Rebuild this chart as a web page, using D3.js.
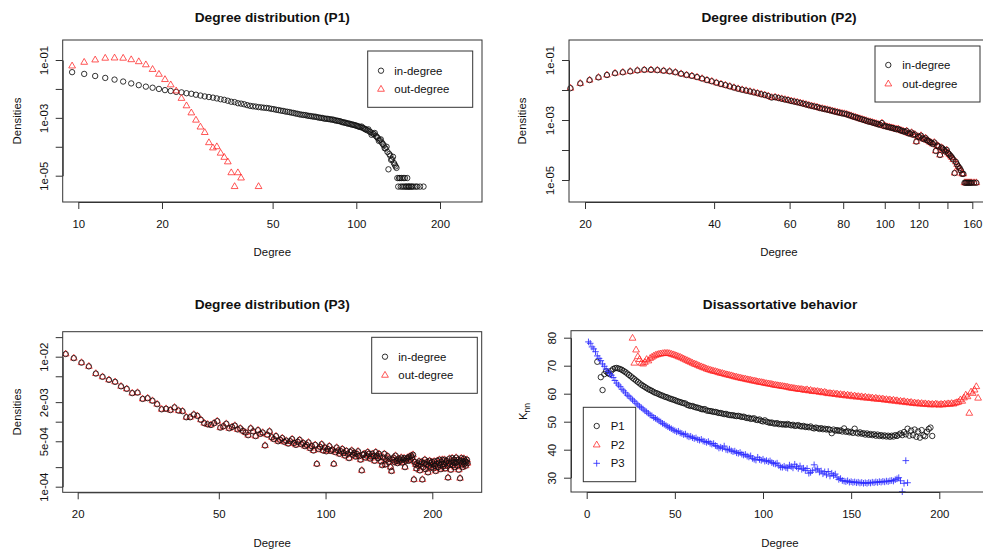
<!DOCTYPE html>
<html>
<head>
<meta charset="utf-8">
<script src="https://cdn.jsdelivr.net/npm/d3@7"></script>
<style>
  body { margin: 0; background: #fff; }
</style>
</head>
<body>
<div id="canvas"></div>
<script>
"use strict"

/* ---- data: [degree, density] ---- */
let p1InDegree = [
[9.5,3.8e-2],[10.5,3.3e-2],[11.5,2.8e-2],[12.5,2.4e-2],[13.5,2.1e-2],[14.5,1.8e-2],[15.5,1.55e-2],[16.5,1.35e-2],[17.5,1.2e-2],[18.5,1.1e-2],[19.5,1.0e-2],
[20.5,9.1e-3],[21.5,8.5e-3],[22.5,7.9e-3],[23.5,7.6e-3],[24.5,7.1e-3],[25.5,6.8e-3],[26.5,6.3e-3],[27.5,5.9e-3],[28.5,5.5e-3],[29.5,5.25e-3],
[30.5,5.0e-3],[31.5,4.7e-3],[32.5,4.4e-3],[33.5,4.2e-3],[34.5,3.9e-3],[35.5,3.6e-3],[36.5,3.5e-3],[37.5,3.2e-3],[38.5,3.1e-3],[39.5,2.95e-3],
[40.5,2.75e-3],[41.5,2.6e-3],[42.5,2.5e-3],[43.5,2.45e-3],[44.5,2.35e-3],[45.5,2.3e-3],[46.5,2.24e-3],[47.5,2.2e-3],[48.5,2.14e-3],[49.5,2.04e-3],
[50.5,2.0e-3],[51.5,1.9e-3],[52.5,1.86e-3],[53.5,1.78e-3],[54.5,1.74e-3],[55.5,1.66e-3],[56.5,1.62e-3],[57.5,1.58e-3],[58.5,1.51e-3],[59.5,1.48e-3],
[60.5,1.41e-3],[61.5,1.38e-3],[62.5,1.32e-3],[63.5,1.29e-3],[64.5,1.26e-3],[65.5,1.25e-3],[66.5,1.2e-3],[67.5,1.17e-3],[68.5,1.15e-3],[69.5,1.12e-3],
[70.5,1.1e-3],[71.5,1.09e-3],[72.5,1.05e-3],[73.5,1.02e-3],[74.5,1.0e-3],[75.5,9.9e-4],[76.5,9.5e-4],[77.5,9.3e-4],[78.5,9.3e-4],[79.5,9.1e-4],
[80.5,8.9e-4],[81.5,8.7e-4],[82.5,8.7e-4],[83.5,8.3e-4],[84.5,8.1e-4],[85.5,7.9e-4],[86.5,7.8e-4],[87.5,7.6e-4],[88.5,7.2e-4],[89.5,7.1e-4],
[90.5,6.8e-4],[91.5,6.8e-4],[92.5,6.5e-4],[93.5,6.3e-4],[94.5,6.3e-4],[95.5,6.0e-4],[96.5,5.9e-4],[97.5,5.75e-4],[98.5,5.6e-4],[99.5,5.5e-4],
[100.5,5.25e-4],[101.5,5.1e-4],[102.5,4.9e-4],[103.5,4.8e-4],[104.5,5.0e-4],[105.5,4.5e-4],[106.5,4.3e-4],[107.5,4.1e-4],[108.5,3.9e-4],[109.5,3.7e-4],
[110.5,4.0e-4],[111.5,3.4e-4],[112.5,3.2e-4],[113.5,2.6e-4],[114.5,2.9e-4],[115.5,2.75e-4],[116.5,3.0e-4],[117.5,2.4e-4],[118.5,2.2e-4],[119.5,2.0e-4],
[120.5,1.6e-4],[121.5,1.7e-4],[122.5,1.8e-4],[123.5,1.4e-4],[124.5,1.26e-4],[125.5,1.12e-4],[126.5,8.9e-5],[127.5,8.7e-5],[128.5,1.0e-4],[129.5,6.6e-5],
[130.5,1.66e-5],[131.5,5.6e-5],[132.5,4.9e-5],[133.5,3.5e-5],[134.5,3.7e-5],[135.5,4.5e-5],[136.5,2.75e-5],[137.5,2.4e-5],[138.5,2.1e-5],[139.5,1.86e-5],
[140.5,8.3e-6],[141.5,4.2e-6],[142.5,8.3e-6],[143.5,8.3e-6],[144.5,4.2e-6],[145.5,8.3e-6],[146.5,4.2e-6],[147.5,8.3e-6],[148.5,4.2e-6],[149.5,8.3e-6],
[150.5,4.2e-6],[151.5,4.2e-6],[152.5,8.3e-6],[153.5,4.2e-6],[154.5,4.2e-6],[155.5,4.2e-6],[157.5,4.2e-6],[158.5,4.2e-6],[160.5,4.2e-6],[163.5,4.2e-6],
[165.5,4.2e-6],[169.5,4.2e-6],[174.5,4.2e-6]
];

let p1OutDegree = [
[9.5,6.2e-2],[10.5,8.3e-2],[11.5,1.0e-1],[12.5,1.15e-1],[13.5,1.17e-1],[14.5,1.15e-1],[15.5,1.02e-1],[16.5,8.7e-2],[17.5,6.8e-2],[18.5,4.7e-2],
[19.5,3.2e-2],[20.5,2.1e-2],[21.5,1.38e-2],[22.5,8.5e-3],[23.5,4.7e-3],[24.5,2.6e-3],[25.5,1.48e-3],[26.5,8.3e-4],[27.5,4.8e-4],[28.5,3.1e-4],
[29.5,1.38e-4],[30.5,9.1e-5],[31.5,1.0e-4],[32.5,6.0e-5],[33.5,4.3e-5],[34.5,3.0e-5],[35.5,1.26e-5],[36.5,4.2e-6],[37.5,1.26e-5],[38.5,8.3e-6],
[44.5,4.2e-6]
];

let p2InDegree = [
[18.5,1.15e-2],[19.5,1.66e-2],[20.5,2.14e-2],[21.5,2.63e-2],[22.5,3.16e-2],[23.5,3.63e-2],[24.5,3.89e-2],[25.5,4.17e-2],[26.5,4.47e-2],[27.5,4.68e-2],
[28.5,4.68e-2],[29.5,4.57e-2],[30.5,4.37e-2],[31.5,4.17e-2],[32.5,3.89e-2],[33.5,3.47e-2],[34.5,3.16e-2],[35.5,2.95e-2],[36.5,2.69e-2],[37.5,2.4e-2],
[38.5,2.14e-2],[39.5,1.95e-2],[40.5,1.74e-2],[41.5,1.58e-2],[42.5,1.45e-2],[43.5,1.32e-2],[44.5,1.2e-2],[45.5,1.1e-2],[46.5,1.02e-2],[47.5,9.5e-3],
[48.5,8.9e-3],[49.5,8.3e-3],[50.5,7.8e-3],[51.5,7.2e-3],[52.5,6.8e-3],[53.5,6.3e-3],[54.5,5.6e-3],[55.5,5.75e-3],[56.5,5.4e-3],[57.5,5.1e-3],
[58.5,4.8e-3],[59.5,4.6e-3],[60.5,4.3e-3],[61.5,4.1e-3],[62.5,3.9e-3],[63.5,3.7e-3],[64.5,3.5e-3],[65.5,3.3e-3],[66.5,3.1e-3],[67.5,2.95e-3],
[68.5,2.8e-3],[69.5,2.7e-3],[70.5,2.5e-3],[71.5,2.4e-3],[72.5,2.3e-3],[73.5,2.2e-3],[74.5,2.1e-3],[75.5,2.0e-3],[76.5,1.9e-3],[77.5,1.82e-3],
[78.5,1.74e-3],[79.5,1.66e-3],[80.5,1.62e-3],[81.5,1.55e-3],[82.5,1.45e-3],[83.5,1.38e-3],[84.5,1.29e-3],[85.5,1.23e-3],[86.5,1.17e-3],[87.5,1.1e-3],
[88.5,1.05e-3],[89.5,1.0e-3],[90.5,9.5e-4],[91.5,8.9e-4],[92.5,8.7e-4],[93.5,8.3e-4],[94.5,7.9e-4],[95.5,7.6e-4],[96.5,7.2e-4],[97.5,6.9e-4],
[98.5,7.9e-4],[99.5,6.3e-4],[100.5,6.2e-4],[101.5,5.9e-4],[102.5,5.75e-4],[103.5,5.5e-4],[104.5,5.4e-4],[105.5,5.1e-4],[106.5,4.9e-4],[107.5,5.0e-4],
[108.5,4.6e-4],[109.5,4.4e-4],[110.5,4.2e-4],[111.5,4.0e-4],[112.5,4.3e-4],[113.5,3.6e-4],[114.5,3.5e-4],[115.5,3.8e-4],[116.5,3.2e-4],[117.5,3.3e-4],
[118.5,1.9e-4],[119.5,2.8e-4],[120.5,2.7e-4],[121.5,3.0e-4],[122.5,2.4e-4],[123.5,2.3e-4],[124.5,2.5e-4],[125.5,2.1e-4],[126.5,2.0e-4],[127.5,1.82e-4],
[128.5,1.74e-4],[129.5,1.58e-4],[130.5,1.78e-4],[131.5,9.3e-5],[132.5,1.41e-4],[133.5,1.32e-4],[134.5,6.8e-5],[135.5,1.2e-4],[136.5,1.12e-4],[137.5,1.0e-4],
[138.5,8.9e-5],[139.5,1.0e-4],[140.5,7.9e-5],[141.5,7.1e-5],[142.5,6.3e-5],[143.5,5.6e-5],[144.5,4.8e-5],[145.5,1.7e-5],[146.5,4.0e-5],[147.5,3.3e-5],
[148.5,2.8e-5],[149.5,2.5e-5],[150.5,2.1e-5],[151.5,1.6e-5],[152.5,1.6e-5],[153.5,8.1e-6],[154.5,8.1e-6],[155.5,8.1e-6],[156.5,8.1e-6],[157.5,8.1e-6],
[158.5,8.1e-6],[159.5,8.1e-6],[161.5,8.1e-6],[163.5,8.1e-6]
];
// the out-degree triangles sit on the in-degree circles in the picture
let p2OutDegree = p2InDegree;

let p3InDegree = [
[18.5,1.1e-2],[19.5,9.5e-3],[20.5,8.1e-3],[21.5,7.1e-3],[22.5,5.5e-3],[23.5,4.9e-3],[24.5,4.4e-3],[25.5,4.1e-3],[26.5,3.5e-3],[27.5,3.2e-3],
[28.5,2.75e-3],[29.5,2.8e-3],[30.5,2.24e-3],[31.5,2.3e-3],[32.5,2.1e-3],[33.5,1.86e-3],[34.5,1.55e-3],[35.5,1.58e-3],[36.5,1.51e-3],[37.5,1.66e-3],
[38.5,1.48e-3],[39.5,1.45e-3],[40.5,1.17e-3],[41.5,1.17e-3],[42.5,1.29e-3],[43.5,1.23e-3],[44.5,1.07e-3],[45.5,9.5e-4],[46.5,9.1e-4],[47.5,8.9e-4],
[48.5,9.5e-4],[49.5,1.02e-3],[50.5,8.1e-4],[51.5,8.5e-4],[52.5,9.3e-4],[53.5,7.9e-4],[54.5,8.3e-4],[55.5,8.7e-4],[56.5,7.6e-4],[57.5,7.9e-4],
[58.5,7.2e-4],[59.5,6.8e-4],[60.5,6.2e-4],[61.5,7.9e-4],[62.5,7.1e-4],[63.5,6.0e-4],[64.5,7.4e-4],[65.5,6.5e-4],[66.5,6.8e-4],[67.5,4.3e-4],
[68.5,6.3e-4],[69.5,7.1e-4],[70.5,5.75e-4],[71.5,5.4e-4],[72.5,6.0e-4],[73.5,5.0e-4],[74.5,5.25e-4],[75.5,5.6e-4],[76.5,4.9e-4],[77.5,5.1e-4],
[78.5,4.6e-4],[79.5,5.0e-4],[80.5,5.4e-4],[81.5,4.7e-4],[82.5,4.4e-4],[83.5,4.9e-4],[84.5,5.25e-4],[85.5,4.5e-4],[86.5,4.7e-4],[87.5,4.2e-4],
[88.5,4.4e-4],[89.5,4.8e-4],[90.5,3.9e-4],[91.5,4.2e-4],[92.5,3.6e-4],[93.5,4.4e-4],[94.5,2.24e-4],[95.5,3.8e-4],[96.5,4.1e-4],[97.5,4.5e-4],
[98.5,3.6e-4],[99.5,4.0e-4],[100.5,3.5e-4],[101.5,3.8e-4],[102.5,4.2e-4],[103.5,3.55e-4],[104.5,3.7e-4],[105.5,2.24e-4],[106.5,3.4e-4],[107.5,4.0e-4],
[108.5,3.6e-4],[109.5,3.2e-4],[110.5,3.5e-4],[111.5,3.8e-4],[112.5,3.3e-4],[113.5,3.0e-4],[114.5,3.55e-4],[115.5,3.2e-4],[116.5,2.75e-4],[117.5,3.4e-4],
[118.5,3.6e-4],[119.5,3.1e-4],[120.5,3.3e-4],[121.5,2.9e-4],[122.5,3.2e-4],[123.5,3.5e-4],[124.5,2.95e-4],[125.5,2.6e-4],[126.5,1.78e-4],[127.5,3.1e-4],
[128.5,3.2e-4],[129.5,2.8e-4],[130.5,3.0e-4],[131.5,3.4e-4],[132.5,3.2e-4],[133.5,2.7e-4],[134.5,2.9e-4],[135.5,3.2e-4],[136.5,2.95e-4],[137.5,2.5e-4],
[138.5,3.4e-4],[139.5,3.0e-4],[140.5,2.75e-4],[141.5,3.2e-4],[142.5,2.9e-4],[143.5,2.45e-4],[144.5,2.14e-4],[145.5,2.8e-4],[146.5,3.2e-4],[147.5,2.2e-4],
[148.5,2.6e-4],[149.5,2.95e-4],[150.5,2.4e-4],[151.5,2.7e-4],[152.5,2.0e-4],[153.5,1.74e-4],[154.5,2.6e-4],[155.5,2.8e-4],[156.5,2.4e-4],[157.5,3.0e-4],
[158.5,2.5e-4],[159.5,2.3e-4],[160.5,2.7e-4],[161.5,2.45e-4],[162.5,2.6e-4],[163.5,2.8e-4],[164.5,2.35e-4],[165.5,2.6e-4],[166.5,2.75e-4],[167.5,2.0e-4],
[168.5,2.5e-4],[169.5,2.7e-4],[170.5,2.8e-4],[171.5,2.5e-4],[172.5,2.9e-4],[173.5,2.6e-4],[174.5,3.0e-4],[175.5,2.8e-4],[176.5,3.1e-4],[177.5,1.29e-4],
[178.5,2.4e-4],[179.5,2.2e-4],[180.5,1.9e-4],[181.5,2.3e-4],[182.5,2.1e-4],[183.5,2.45e-4],[184.5,1.78e-4],[185.5,2.2e-4],[186.5,2.4e-4],[187.5,1.29e-4],
[188.5,2.0e-4],[189.5,2.3e-4],[190.5,2.6e-4],[191.5,1.86e-4],[192.5,2.2e-4],[193.5,2.4e-4],[194.5,1.66e-4],[195.5,2.1e-4],[196.5,2.5e-4],[197.5,2.3e-4],
[198.5,2.0e-4],[199.5,2.4e-4],[200.5,2.2e-4],[201.5,1.9e-4],[202.5,2.45e-4],[203.5,2.1e-4],[204.5,1.74e-4],[205.5,2.24e-4],[206.5,2.5e-4],[207.5,2.0e-4],
[208.5,2.3e-4],[209.5,2.6e-4],[210.5,2.14e-4],[211.5,1.86e-4],[212.5,2.4e-4],[213.5,2.6e-4],[214.5,2.04e-4],[215.5,2.24e-4],[216.5,2.6e-4],[217.5,1.9e-4],
[218.5,2.35e-4],[219.5,2.5e-4],[220.5,2.1e-4],[221.5,1.38e-4],[222.5,2.3e-4],[223.5,2.7e-4],[224.5,2.2e-4],[225.5,1.82e-4],[226.5,2.45e-4],[227.5,2.75e-4],
[228.5,2.14e-4],[229.5,2.35e-4],[230.5,2.6e-4],[231.5,2.0e-4],[232.5,2.3e-4],[233.5,2.8e-4],[234.5,2.4e-4],[235.5,2.1e-4],[236.5,2.6e-4],[237.5,1.82e-4],
[238.5,2.35e-4],[239.5,1.35e-4],[240.5,2.5e-4],[241.5,2.75e-4],[242.5,2.2e-4],[243.5,2.0e-4],[244.5,2.45e-4],[245.5,2.7e-4],[246.5,2.24e-4],[247.5,2.5e-4],
[248.5,2.1e-4],[249.5,2.4e-4],[250.5,2.6e-4],[251.5,2.3e-4]
];
// same overlap as P2
let p3OutDegree = p3InDegree;

/* ---- average nearest-neighbour degree: [degree, Knn] ---- */
let knnP1 = [
[6,71.4],[8,65.9],[9,61.3],[10,67.0],[11,68.0],[12,67.4],[13,67.0],[14,68.2],[15,68.8],[16,69.1],[17,69.2],[18,69.0],[19,68.8],[20,68.5],
[21,68.1],[22,67.7],[23,67.2],[24,66.7],[25,66.2],[26,65.7],[27,65.2],[28,64.7],[29,64.2],[30,63.7],[31,63.2],[32,62.8],[33,62.4],[34,62.0],
[35,61.6],[36,61.3],[37,61.0],[38,60.6],[39,60.3],[40,60.1],[41,59.8],[42,59.5],[43,59.3],[44,59.0],[45,58.8],[46,58.6],[47,58.3],[48,58.1],
[49,57.9],[50,57.7],[51,57.4],[52,57.2],[53,57.0],[54,56.8],[55,56.6],[56,56.5],[57,56.0],[58,55.8],[59,55.6],[60,55.6],[61,55.3],[62,55.1],
[63,55.0],[64,54.8],[65,54.5],[66,54.4],[67,54.5],[68,54.0],[69,53.9],[70,53.8],[71,53.7],[72,53.5],[73,53.5],[74,53.3],[75,53.1],[76,53.1],
[77,52.9],[78,52.7],[79,52.8],[80,52.5],[81,52.4],[82,52.3],[83,52.3],[84,52.1],[85,52.0],[86,52.1],[87,51.9],[88,51.7],[89,51.8],[90,51.5],
[91,51.3],[92,51.4],[93,51.0],[94,51.1],[95,51.2],[96,50.7],[97,50.6],[98,50.8],[99,50.3],[100,50.1],[101,50.5],[102,50.0],[103,49.8],[104,49.6],
[105,49.7],[106,49.4],[107,49.3],[108,49.5],[109,49.1],[110,49.2],[111,49.0],[112,49.1],[113,48.9],[114,49.2],[115,48.9],[116,48.7],[117,48.9],[118,48.5],
[119,48.6],[120,48.8],[121,48.4],[122,48.3],[123,48.5],[124,48.1],[125,48.2],[126,48.0],[127,48.3],[128,47.8],[129,47.6],[130,47.9],[131,47.7],[132,47.4],
[133,47.7],[134,47.3],[135,47.5],[136,47.2],[137,47.4],[138,47.1],[139,45.9],[140,47.2],[141,46.8],[142,47.0],[143,46.7],[144,46.9],[145,46.5],[146,47.6],
[147,46.4],[148,46.6],[149,46.2],[150,46.4],[151,46.0],[152,47.5],[153,46.1],[154,45.8],[155,46.2],[156,45.7],[157,45.9],[158,45.4],[159,45.8],[160,45.3],
[161,45.6],[162,45.2],[163,45.5],[164,45.0],[165,45.4],[166,44.9],[167,45.2],[168,44.8],[169,45.1],[170,44.7],[171,45.0],[172,44.6],[173,45.0],[174,44.7],
[175,45.2],[176,44.9],[177,45.4],[178,45.8],[179,45.2],[180,46.3],[181,45.5],[182,47.5],[183,45.0],[184,46.8],[185,45.2],[186,47.2],[187,44.6],[188,46.5],
[189,44.3],[190,47.0],[191,45.1],[192,44.8],[193,46.4],[194,47.4],[195,47.9],[196,44.9]
];

let knnP2 = [
[26,79.8],[27,70.9],[28,75.6],[29,73.2],[30,72.2],[31,70.9],[32,70.6],[33,71.2],[34,72.2],[35,71.7],[36,72.6],[37,73.0],[38,73.4],[39,73.7],
[40,73.9],[41,74.1],[42,74.2],[43,74.3],[44,74.4],[45,74.4],[46,74.4],[47,74.3],[48,74.1],[49,73.9],[50,73.7],[51,73.5],[52,73.2],[53,73.0],
[54,72.7],[55,72.4],[56,72.1],[57,71.8],[58,71.5],[59,71.2],[60,70.9],[61,70.6],[62,70.4],[63,70.1],[64,69.8],[65,69.6],[66,69.3],[67,69.1],
[68,68.8],[69,68.6],[70,68.4],[71,68.2],[72,68.0],[73,67.9],[74,67.7],[75,67.5],[76,67.3],[77,67.2],[78,67.0],[79,66.8],[80,66.7],[81,66.5],
[82,66.4],[83,66.2],[84,66.0],[85,65.9],[86,65.7],[87,65.6],[88,65.4],[89,65.3],[90,65.2],[91,65.0],[92,64.9],[93,64.8],[94,64.6],[95,64.5],
[96,64.4],[97,64.2],[98,64.1],[99,64.0],[100,63.9],[101,63.7],[102,63.6],[103,63.5],[104,63.4],[105,63.3],[106,63.1],[107,63.0],[108,62.9],[109,62.8],
[110,62.7],[111,62.6],[112,62.5],[113,62.4],[114,62.3],[115,62.1],[116,62.0],[117,61.9],[118,61.8],[119,61.7],[120,61.6],[121,61.5],[122,61.5],[123,61.3],
[124,61.2],[125,61.4],[126,61.0],[127,61.2],[128,60.8],[129,60.9],[130,60.7],[131,60.8],[132,60.5],[133,60.6],[134,60.3],[135,60.5],[136,60.2],[137,60.0],
[138,60.1],[139,59.9],[140,60.0],[141,59.7],[142,59.9],[143,59.5],[144,59.7],[145,59.4],[146,59.6],[147,59.2],[148,59.5],[149,59.1],[150,59.3],[151,58.9],
[152,59.2],[153,58.8],[154,59.0],[155,58.7],[156,58.9],[157,58.5],[158,58.8],[159,58.4],[160,58.6],[161,58.3],[162,58.5],[163,58.1],[164,58.4],[165,58.0],
[166,58.2],[167,57.9],[168,58.1],[169,57.7],[170,57.9],[171,57.6],[172,57.8],[173,57.4],[174,57.7],[175,57.3],[176,57.5],[177,57.1],[178,57.3],[179,57.0],
[180,57.2],[181,56.8],[182,57.0],[183,56.7],[184,56.9],[185,56.5],[186,56.7],[187,56.4],[188,56.6],[189,56.3],[190,56.5],[191,56.2],[192,56.4],[193,56.1],
[194,56.3],[195,56.0],[196,56.2],[197,56.0],[198,56.3],[199,56.1],[200,55.9],[201,56.2],[202,56.0],[203,56.3],[204,56.1],[205,56.4],[206,56.2],[207,56.5],
[208,56.3],[209,56.6],[210,56.8],[211,57.0],[212,57.8],[213,57.3],[214,58.5],[215,59.5],[216,58.9],[217,53.0],[218,60.6],[219,60.1],[220,61.3],[221,62.5],
[222,58.4]
];

let knnP3 = [
[1,78.5],[2,78.0],[3,76.7],[4,76.0],[5,75.0],[6,73.5],[7,72.6],[8,71.8],[9,70.6],[10,69.8],[11,68.8],[12,68.0],[13,67.2],[14,66.6],
[15,65.8],[16,64.7],[17,63.8],[18,63.1],[19,62.5],[20,61.6],[21,61.0],[22,60.3],[23,59.5],[24,59.1],[25,58.4],[26,57.8],[27,57.3],[28,56.6],
[29,56.0],[30,55.5],[31,55.0],[32,54.5],[33,53.9],[34,53.5],[35,53.0],[36,52.4],[37,52.1],[38,51.5],[39,51.2],[40,50.8],[41,50.3],[42,49.9],
[43,49.4],[44,49.1],[45,48.6],[46,48.2],[47,47.9],[48,47.5],[49,47.1],[50,46.8],[51,46.4],[52,46.6],[53,46.0],[54,45.8],[55,45.4],[56,45.6],
[57,44.9],[58,44.6],[59,44.8],[60,44.3],[61,44.0],[62,44.2],[63,43.6],[64,43.4],[65,43.7],[66,43.1],[67,42.9],[68,42.6],[69,42.9],[70,42.3],
[71,42.0],[72,42.2],[73,41.5],[74,41.2],[75,40.6],[76,40.9],[77,40.5],[78,41.3],[79,40.1],[80,39.9],[81,40.2],[82,39.6],[83,39.3],[84,39.5],
[85,38.9],[86,38.7],[87,39.0],[88,38.4],[89,38.1],[90,38.3],[91,37.7],[92,37.4],[93,37.8],[94,36.9],[95,36.6],[96,36.3],[97,37.3],[98,36.5],
[99,36.2],[100,36.6],[101,35.9],[102,36.1],[103,35.7],[104,36.0],[105,35.4],[106,35.1],[107,34.9],[108,35.2],[109,34.3],[110,33.8],[111,33.7],[112,34.1],
[113,33.6],[114,33.4],[115,34.5],[116,34.0],[117,33.5],[118,34.8],[119,33.9],[120,33.3],[121,34.2],[122,33.0],[123,33.4],[124,32.6],[125,33.3],[126,31.6],
[127,31.9],[128,32.5],[129,34.6],[130,32.8],[131,33.2],[132,32.0],[133,32.4],[134,31.4],[135,32.1],[136,31.0],[137,32.2],[138,30.6],[139,31.6],[140,30.8],
[141,31.3],[142,30.2],[143,29.4],[144,29.7],[145,29.0],[146,28.8],[147,28.6],[148,28.9],[149,28.4],[150,28.6],[151,28.3],[152,28.5],[153,28.2],[154,28.4],
[155,28.1],[156,28.3],[157,28.0],[158,28.2],[159,28.0],[160,28.3],[161,28.1],[162,28.4],[163,28.2],[164,28.5],[165,28.3],[166,28.6],[167,28.4],[168,28.7],
[169,28.5],[170,28.8],[171,28.6],[172,28.9],[173,29.0],[174,28.8],[175,29.3],[176,29.6],[177,30.0],[178,28.9],[179,25.0],[180,28.0],[181,36.1],[182,28.2]
];

/* ---- tick values and labels ---- */
let p1XTicks = [10, 20, 50, 100, 200];
let p1XLabels = ["10", "20", "50", "100", "200"];
let p2XTicks = [20, 40, 60, 80, 100, 120, 140, 160];
let p2XLabels = ["20", "40", "60", "80", "100", "120", "", "160"];
let p3XTicks = [20, 50, 100, 200];
let p3XLabels = ["20", "50", "100", "200"];
let p4XTicks = [0, 50, 100, 150, 200];
let p4XLabels = ["0", "50", "100", "150", "200"];
let decadeTicks = [1e-1, 1e-2, 1e-3, 1e-4, 1e-5];
let decadeLabels = ["1e-01", "", "1e-03", "", "1e-05"];
let p3YTicks = [2e-2, 1e-2, 5e-3, 2e-3, 1e-3, 5e-4, 2e-4, 1e-4];
let p3YLabels = ["", "1e-02", "", "2e-03", "", "5e-04", "", "1e-04"];
let p4YTicks = [30, 40, 50, 60, 70, 80];
let p4YLabels = ["30", "40", "50", "60", "70", "80"];

let FONT = "'Liberation Sans', Arial, Helvetica, sans-serif";

let drawing = d3.select("#canvas")
    .append("svg")
    .attr("width", 983)
    .attr("height", 553);

/* ---- scales (range ends sit on the end ticks, like R's axis line) ---- */
let x1 = d3.scaleLog().domain([10, 200]).range([78.3, 440]);
let y1 = d3.scaleLog().domain([1e-1, 1e-5]).range([60, 175.7]);
let x2 = d3.scaleLog().domain([20, 160]).range([585, 972.3]);
let y2 = d3.scaleLog().domain([1e-1, 1e-5]).range([60, 180]);
let x3 = d3.scaleLog().domain([20, 200]).range([77.7, 432.3]);
let y3 = d3.scaleLog().domain([1e-2, 1e-4]).range([356.7, 486.7]);
let x4 = d3.scaleLinear().domain([0, 200]).range([586.7, 939.3]);
let y4 = d3.scaleLinear().domain([30, 80]).range([477.7, 337.7]);

/* ---- marker helpers ---- */
let triPath = "M0,-3.9L3.38,1.95L-3.38,1.95Z";
let plusPath = "M-3.3,0H3.3M0,-3.3V3.3";

function circles(data, x, y) {
    drawing.append("g").selectAll("circle")
        .data(data).join("circle")
        .attr("cx", d => x(d[0]))
        .attr("cy", d => y(d[1]))
        .attr("r", 2.7)
        .attr("fill", "none")
        .attr("stroke", "#111")
        .attr("stroke-width", 0.85);
}

function triangles(data, x, y) {
    drawing.append("g").selectAll("path")
        .data(data).join("path")
        .attr("d", triPath)
        .attr("transform", d => `translate(${x(d[0])},${y(d[1])})`)
        .attr("fill", "none")
        .attr("stroke", "#ff2020")
        .attr("stroke-width", 0.75);
}

function pluses(data, x, y) {
    drawing.append("g").selectAll("path")
        .data(data).join("path")
        .attr("d", plusPath)
        .attr("transform", d => `translate(${x(d[0])},${y(d[1])})`)
        .attr("fill", "none")
        .attr("stroke", "#2a2aff")
        .attr("stroke-width", 0.85);
}

/* ---- frame, axes, titles ---- */
function frame(left, top, right, bottom) {
    drawing.append("rect")
        .attr("x", left).attr("y", top)
        .attr("width", right - left).attr("height", bottom - top)
        .attr("fill", "none")
        .attr("stroke", "#333")
        .attr("stroke-width", 1);
}

function bottomAxis(scale, ticks, labels, yPos) {
    let g = drawing.append("g")
        .attr("transform", `translate(0,${yPos})`)
        .call(d3.axisBottom(scale).tickValues(ticks)
            .tickFormat((d, i) => labels[i])
            .tickSize(7).tickPadding(11).tickSizeOuter(0));
    g.attr("font-family", FONT).attr("font-size", 11.4);
    g.selectAll("path, line").attr("stroke", "#333");
    g.selectAll("text").attr("fill", "#111");
}

function leftAxis(scale, ticks, labels, xPos) {
    let g = drawing.append("g")
        .attr("transform", `translate(${xPos},0)`)
        .call(d3.axisLeft(scale).tickValues(ticks)
            .tickFormat((d, i) => labels[i])
            .tickSize(7).tickSizeOuter(0));
    g.attr("font-family", FONT).attr("font-size", 11.4);
    g.selectAll("path, line").attr("stroke", "#333");
    g.selectAll("text")
        .attr("x", 0).attr("dy", 0)
        .attr("text-anchor", "middle")
        .attr("transform", "translate(-15,0) rotate(-90)")
        .attr("fill", "#111");
}

function title(text, cx, baseline) {
    drawing.append("text")
        .attr("x", cx).attr("y", baseline)
        .attr("text-anchor", "middle")
        .attr("font-family", FONT)
        .attr("font-size", 13.7)
        .attr("font-weight", "bold")
        .attr("fill", "#111")
        .text(text);
}

function xTitle(text, cx, baseline) {
    drawing.append("text")
        .attr("x", cx).attr("y", baseline)
        .attr("text-anchor", "middle")
        .attr("font-family", FONT)
        .attr("font-size", 11.4)
        .attr("fill", "#111")
        .text(text);
}

function yTitle(text, cx, cy) {
    return drawing.append("text")
        .attr("transform", `translate(${cx + 4},${cy}) rotate(-90)`)
        .attr("text-anchor", "middle")
        .attr("font-family", FONT)
        .attr("font-size", 11.4)
        .attr("fill", "#111")
        .text(text);
}

function legend(left, top, right, bottom, markerX, textX, rows) {
    frame(left, top, right, bottom);
    rows.forEach(r => {
        if (r.kind === "circle") {
            drawing.append("circle").attr("cx", markerX).attr("cy", r.y).attr("r", 2.7)
                .attr("fill", "none").attr("stroke", "#111").attr("stroke-width", 0.85);
        } else if (r.kind === "triangle") {
            drawing.append("path").attr("d", triPath).attr("transform", `translate(${markerX},${r.y})`)
                .attr("fill", "none").attr("stroke", "#ff2020").attr("stroke-width", 0.75);
        } else {
            drawing.append("path").attr("d", plusPath).attr("transform", `translate(${markerX},${r.y})`)
                .attr("fill", "none").attr("stroke", "#2a2aff").attr("stroke-width", 0.85);
        }
        drawing.append("text")
            .attr("x", textX).attr("y", r.y + 4)
            .attr("font-family", FONT).attr("font-size", 11.4)
            .attr("fill", "#111")
            .text(r.label);
    });
}

/* ================= P1 ================= */
circles(p1InDegree, x1, y1);
triangles(p1OutDegree, x1, y1);
frame(62.7, 40, 482, 202);
bottomAxis(x1, p1XTicks, p1XLabels, 202);
leftAxis(y1, decadeTicks, decadeLabels, 62.7);
title("Degree distribution (P1)", 272.3, 21.5);
xTitle("Degree", 272.3, 255.8);
yTitle("Densities", 16.7, 121);
legend(367.7, 51, 472.7, 107.3, 381, 394.3, [
    { kind: "circle", label: "in-degree", y: 70.7 },
    { kind: "triangle", label: "out-degree", y: 89.3 }
]);

/* ================= P2 ================= */
// circles go on top so the dark rings show, as in the picture
triangles(p2OutDegree, x2, y2);
circles(p2InDegree, x2, y2);
frame(569, 40, 989, 202);
bottomAxis(x2, p2XTicks, p2XLabels, 202);
leftAxis(y2, decadeTicks, decadeLabels, 569);
title("Degree distribution (P2)", 779, 21.5);
xTitle("Degree", 779, 255.8);
yTitle("Densities", 522.3, 121);
legend(875, 46, 980, 102, 888.3, 902.3, [
    { kind: "circle", label: "in-degree", y: 65 },
    { kind: "triangle", label: "out-degree", y: 84 }
]);

/* ================= P3 ================= */
triangles(p3OutDegree, x3, y3);
circles(p3InDegree, x3, y3);
frame(62.7, 331.7, 481.7, 492.3);
bottomAxis(x3, p3XTicks, p3XLabels, 492.3);
leftAxis(y3, p3YTicks, p3YLabels, 62.7);
title("Degree distribution (P3)", 272.2, 308.8);
xTitle("Degree", 272.2, 547.4);
yTitle("Densities", 16.7, 412);
legend(371.7, 337.3, 477.3, 393.3, 385, 398.3, [
    { kind: "circle", label: "in-degree", y: 356.7 },
    { kind: "triangle", label: "out-degree", y: 375.3 }
]);

/* ================= P4 ================= */
circles(knnP1, x4, y4);
triangles(knnP2, x4, y4);
pluses(knnP3, x4, y4);
frame(571, 330.7, 989, 492);
bottomAxis(x4, p4XTicks, p4XLabels, 492);
leftAxis(y4, p4YTicks, p4YLabels, 571);
title("Disassortative behavior", 780, 308.8);
xTitle("Degree", 780, 547.4);
let knnLabel = yTitle("", 523.3, 411.5);
knnLabel.append("tspan").text("K");
knnLabel.append("tspan").attr("dy", 3).attr("font-size", 8.5).text("nn");
legend(583.3, 407.3, 635.7, 481.7, 596.7, 610.7, [
    { kind: "circle", label: "P1", y: 426 },
    { kind: "triangle", label: "P2", y: 445 },
    { kind: "plus", label: "P3", y: 463.3 }
]);
</script>
</body>
</html>
